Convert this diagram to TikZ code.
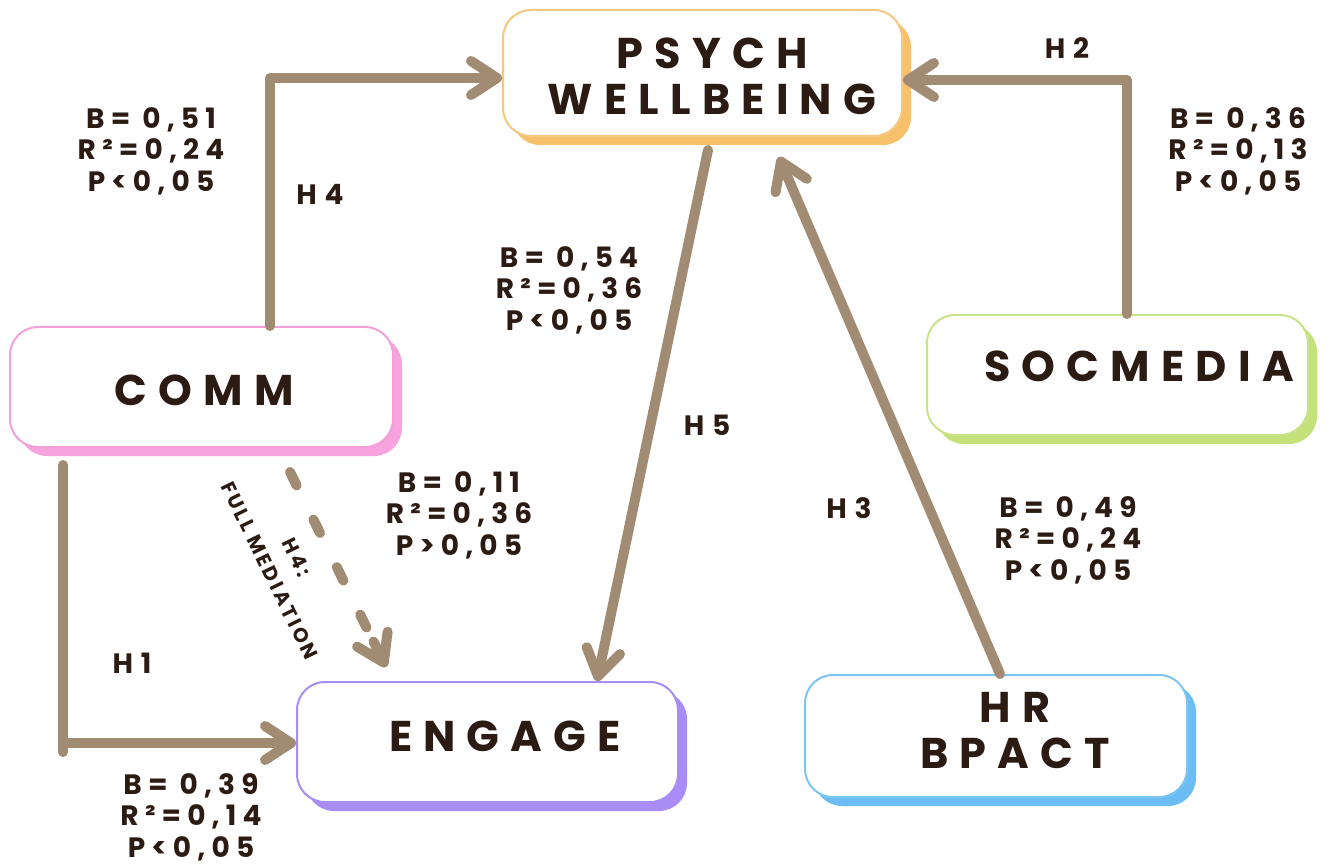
\documentclass[tikz,border=0pt]{standalone}
\usepackage{fontspec}
\setmainfont{Poppins}
\newfontfamily\boxfont{Poppins}[LetterSpace=26]
\newfontfamily\lblfont{Poppins}[LetterSpace=22]
\newfontfamily\hypfont{Poppins}[LetterSpace=28]
\newfontfamily\medfont{Poppins}[LetterSpace=14]
\usetikzlibrary{arrows.meta,shadows}
\definecolor{arrowc}{HTML}{A28B73}
\definecolor{txtc}{HTML}{2B1B12}
\definecolor{orgB}{HTML}{F6C77E}\definecolor{orgS}{HTML}{F7C06A}
\definecolor{pnkB}{HTML}{F3A0DA}\definecolor{pnkS}{HTML}{F6A3DE}
\definecolor{grnB}{HTML}{C9E38A}\definecolor{grnS}{HTML}{C5E27A}
\definecolor{prpB}{HTML}{A88EF2}\definecolor{prpS}{HTML}{A98CF7}
\definecolor{bluB}{HTML}{7CC6F0}\definecolor{bluS}{HTML}{6BBDF3}
\begin{document}
\begin{tikzpicture}[x=1pt,y=-1pt,
  box/.style args={#1/#2}{draw=#1, line width=2pt, rounded corners=28pt, fill=white,
     inner sep=0pt, drop shadow={shadow xshift=9pt, shadow yshift=-9pt, opacity=1, fill=#2, draw=none}},
  boxtxt/.style={text=txtc, font=\boxfont\bfseries\fontsize{43}{46}\selectfont, align=center, inner sep=0pt},
  lbl/.style={text=txtc, font=\lblfont\bfseries\fontsize{28}{31.5}\selectfont, align=center, inner sep=0pt},
  hyp/.style={text=txtc, font=\hypfont\bfseries\fontsize{28}{30}\selectfont, inner sep=0pt},
  conn/.style={draw=arrowc, line width=10pt, line cap=round, line join=round},
  arr/.style={conn, -{Straight Barb[length=26pt, width=34pt, round]}},
  dashln/.style={conn, dash pattern=on 15pt off 38pt}
]
\useasboundingbox (0,0) rectangle (1328,866);
\fill[white] (0,0) rectangle (1328,866);

% boxes
\node[box=orgB/orgS, minimum width=399pt, minimum height=126pt] (psych) at (702.5,73) {};
\node[box=pnkB/pnkS, minimum width=383pt, minimum height=120pt] (comm) at (201.5,387) {};
\node[box=grnB/grnS, minimum width=381pt, minimum height=120pt] (soc) at (1117.5,375) {};
\node[box=prpB/prpS, minimum width=381pt, minimum height=120pt] (engage) at (487.5,742) {};
\node[box=bluB/bluS, minimum width=382pt, minimum height=122pt] (hr) at (996,736) {};

% box texts
\node[boxtxt] (psychT) at (712,76) {PSYCH\\WELLBEING};
\node[boxtxt] (commT) at (204,390) {COMM};
\node[boxtxt] (socT) at (1139,366) {SOCMEDIA};
\node[boxtxt] (engageT) at (505,736) {ENGAGE};
\node[boxtxt] (hrT) at (1015,731) {HR\\BPACT};

% coordinates
\coordinate (b4) at (270,78);
\coordinate (b2) at (1127,80);
\coordinate (b1a) at (63,465);
\coordinate (b1) at (63,743);
\coordinate (b1c) at (63,752);
\coordinate (h5s) at (708,150);
\coordinate (h5t) at (597,0);
\coordinate (h3t) at (779,157);
\coordinate (h3s) at (1000,0);
\coordinate (dS) at (290,472);
\coordinate (dE) at (366.5,627.5);
\coordinate (dH) at (373.5,641.5);
\coordinate (dT) at (386,667);

% connectors
\draw[arr] (comm.north -| b4) -- (b4) -- (psych.west |- b4);
\draw[arr] (soc.north -| b2) -- (b2) -- (psych.east |- b2);
\draw[conn] (b1a) -- (b1c);
\draw[arr] (b1) -- (engage.west |- b1);
\draw[arr] (h5s) -- (engage.north -| h5t);
\draw[arr] (hr.north -| h3s) -- (h3t);
\draw[dashln] (dS) -- (dE);
\draw[arr] (dH) -- (dT);

% labels
\node[lbl] (l1) at (151,151) {B=\ 0,51\\R²=0,24\\P<0,05};
\node[lbl] (l2) at (1238,151) {B=\ 0,36\\R²=0,13\\P<0,05};
\node[lbl] (l3) at (569,290) {B=\ 0,54\\R²=0,36\\P<0,05};
\node[lbl] (l4) at (459,515) {B=\ 0,11\\R²=0,36\\P>0,05};
\node[lbl] (l5) at (1068,540) {B=\ 0,49\\R²=0,24\\P<0,05};
\node[lbl] (l6) at (191,817) {B=\ 0,39\\R²=0,14\\P<0,05};

\node[hyp] (hH4) at (320,194) {H4};
\node[hyp] (hH2) at (1067,48) {H2};
\node[hyp] (hH5) at (707,425) {H5};
\node[hyp] (hH3) at (849,508) {H3};
\node[hyp] (hH1) at (132,663) {H1};

\node[text=txtc, font=\medfont\bfseries\fontsize{20}{30}\selectfont, align=center, inner sep=0pt, rotate=-64] (med) at (283,564) {H4:\\FULL MEDIATION};
\end{tikzpicture}
\end{document}
